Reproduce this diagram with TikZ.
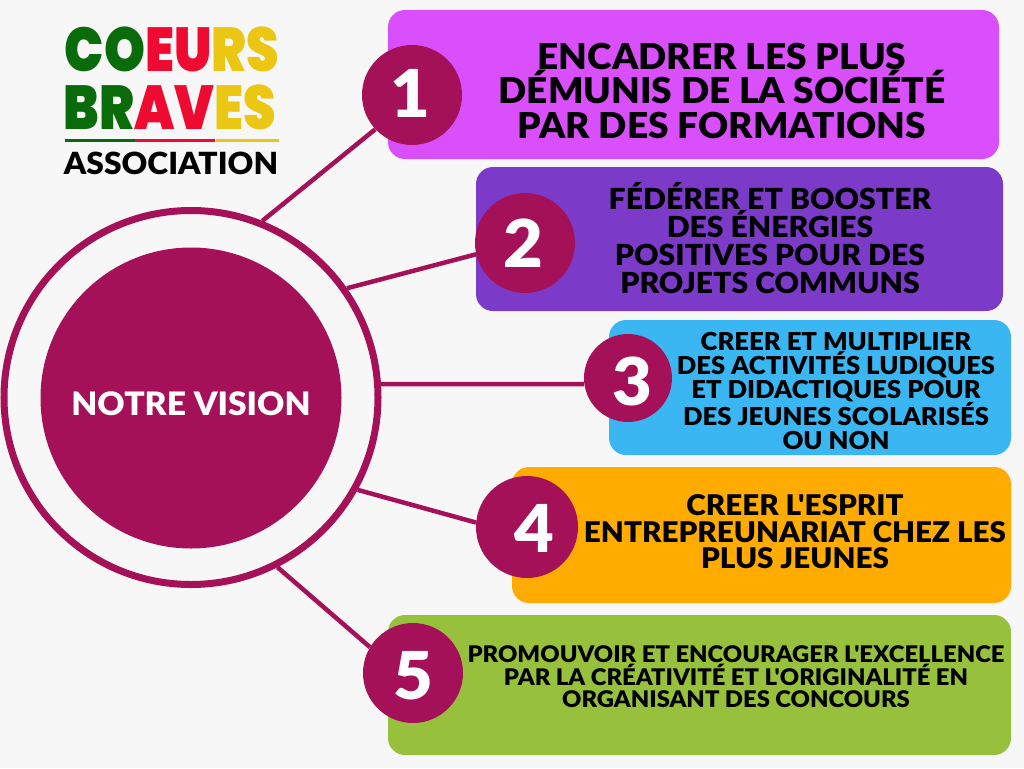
\documentclass[tikz,border=0pt]{standalone}
\usepackage{fontspec}
\usetikzlibrary{positioning}
\newfontfamily\goalfont{Lato Black}[FakeStretch=1.04]
\newfontfamily\logofont{Poppins Black}[FakeStretch=0.84]
\definecolor{bgcol}{HTML}{F7F7F7}
\definecolor{visioncol}{HTML}{A51158}
\definecolor{boxa}{HTML}{D84FFB}
\definecolor{boxb}{HTML}{7B3BC8}
\definecolor{boxc}{HTML}{3AB6F3}
\definecolor{boxd}{HTML}{FFAB00}
\definecolor{boxe}{HTML}{97C13C}
\definecolor{logogreen}{HTML}{0A6B0A}
\definecolor{logored}{HTML}{EE0A30}
\definecolor{logoyellow}{HTML}{EBC713}
\tikzset{
  numcirc/.style={circle,fill=visioncol,inner sep=0pt},
  numtext/.style={text=white,inner sep=0pt,font=\goalfont\fontsize{66}{66}\selectfont},
  goalbox/.style={rectangle,rounded corners=17pt,inner sep=0pt},
  goaltext/.style={align=center,inner sep=0pt,text=black},
  link/.style={draw=visioncol,line width=4.5pt},
  logoline/.style={inner sep=0pt,font=\logofont\fontsize{62}{62}\selectfont},
  logobar/.style={rectangle,inner sep=0pt,minimum height=3pt},
}
\begin{document}
\begin{tikzpicture}[x=1pt,y=-1pt]
   \useasboundingbox[fill=bgcol] (0,0) rectangle (1024,768);
   % coloured boxes
   \node[goalbox,fill=boxa,minimum width=611pt,minimum height=149pt] (b1) at (693.5,84.5) {};
   \node[goalbox,fill=boxb,minimum width=527pt,minimum height=144pt] (b2) at (739.5,239) {};
   \node[goalbox,fill=boxc,minimum width=402pt,minimum height=135pt] (b3) at (810,387.5) {};
   \node[goalbox,fill=boxd,minimum width=499pt,minimum height=136pt] (b4) at (761.5,535) {};
   \node[goalbox,fill=boxe,minimum width=623pt,minimum height=140pt] (b5) at (699.5,685) {};
   % centre
   \node[circle,draw=visioncol,line width=7pt,fill=bgcol,minimum size=374pt,inner sep=0pt] (ring) at (191,397.5) {};
   \node[circle,fill=visioncol,minimum size=301pt,inner sep=0pt,text=white,font=\goalfont\fontsize{32.3}{32.3}\selectfont] (vision) at (191,398) {\raisebox{-6pt}[\height][\depth]{NOTRE VISION}};
   % numbers
   \node[numcirc,minimum size=100pt] (n1) at (412,95) {};
   \node[numcirc,minimum size=100pt] (n2) at (525,243) {};
   \node[numcirc,minimum size=88pt] (n3) at (628,378) {};
   \node[numcirc,minimum size=102pt] (n4) at (527,527) {};
   \node[numcirc,minimum size=100pt] (n5) at (413,673) {};
   \node[numtext] (d1) at (410.5,93.5) {1};
   \node[numtext] (d2) at (523,243) {2};
   \node[numtext] (d3) at (632,381) {3};
   \node[numtext] (d4) at (534,528) {4};
   \node[numtext] (d5) at (413,676) {5};
   % connectors
   \draw[link] (ring.68) -- (n1.223);
   \draw[link] (ring.35.5) -- (n2.193);
   \draw[link] (ring.4) -- (n3.188);
   \draw[link] (ring.-29) -- (n4.175);
   \draw[link] (ring.-63) -- (n5.149);
   % texts
   \node[goaltext,font=\goalfont\fontsize{35.7}{34.5}\selectfont] (t1) at (722,90.5) {ENCADRER LES PLUS\\DÉMUNIS DE LA SOCIÉTÉ\\PAR DES FORMATIONS};
   \node[goaltext,font=\goalfont\fontsize{29}{28}\selectfont] (t2) at (770,238) {FÉDÉRER ET BOOSTER\\DES ÉNERGIES\\POSITIVES POUR DES\\PROJETS COMMUNS};
   \node[goaltext,font=\goalfont\fontsize{24.7}{24}\selectfont] (t3) at (836,391) {CREER ET MULTIPLIER\\DES ACTIVITÉS LUDIQUES\\ET DIDACTIQUES POUR\\DES JEUNES SCOLARISÉS\\OU NON};
   \node[goaltext,font=\goalfont\fontsize{28.5}{26.5}\selectfont] (t4) at (795,532) {CREER L'ESPRIT\\ENTREPREUNARIAT CHEZ LES\\PLUS JEUNES};
   \node[goaltext,font=\goalfont\fontsize{22.9}{22.5}\selectfont] (t5) at (736,677) {PROMOUVOIR ET ENCOURAGER L'EXCELLENCE\\PAR LA CRÉATIVITÉ ET L'ORIGINALITÉ EN\\ORGANISANT DES CONCOURS};
   % logo
   \node[logoline] (l1) at (172,49) {\textcolor{logogreen}{CO}\textcolor{logored}{EU}\textcolor{logoyellow}{RS}};
   \node[logoline] (l2) at (170,107) {\textcolor{logogreen}{BR}\textcolor{logored}{AV}\textcolor{logoyellow}{ES}};
   \node[logobar,fill=logogreen,minimum width=70pt] (g) at (100,140) {};
   \node[logobar,fill=logored,right=0pt of g,minimum width=80pt] (r) {};
   \node[logobar,fill=logoyellow,right=0pt of r,minimum width=63pt] (y) {};
   \node[inner sep=0pt,font=\goalfont\fontsize{30.5}{30.5}\selectfont] (assoc) at (171,163) {ASSOCIATION};
\end{tikzpicture}
\end{document}
